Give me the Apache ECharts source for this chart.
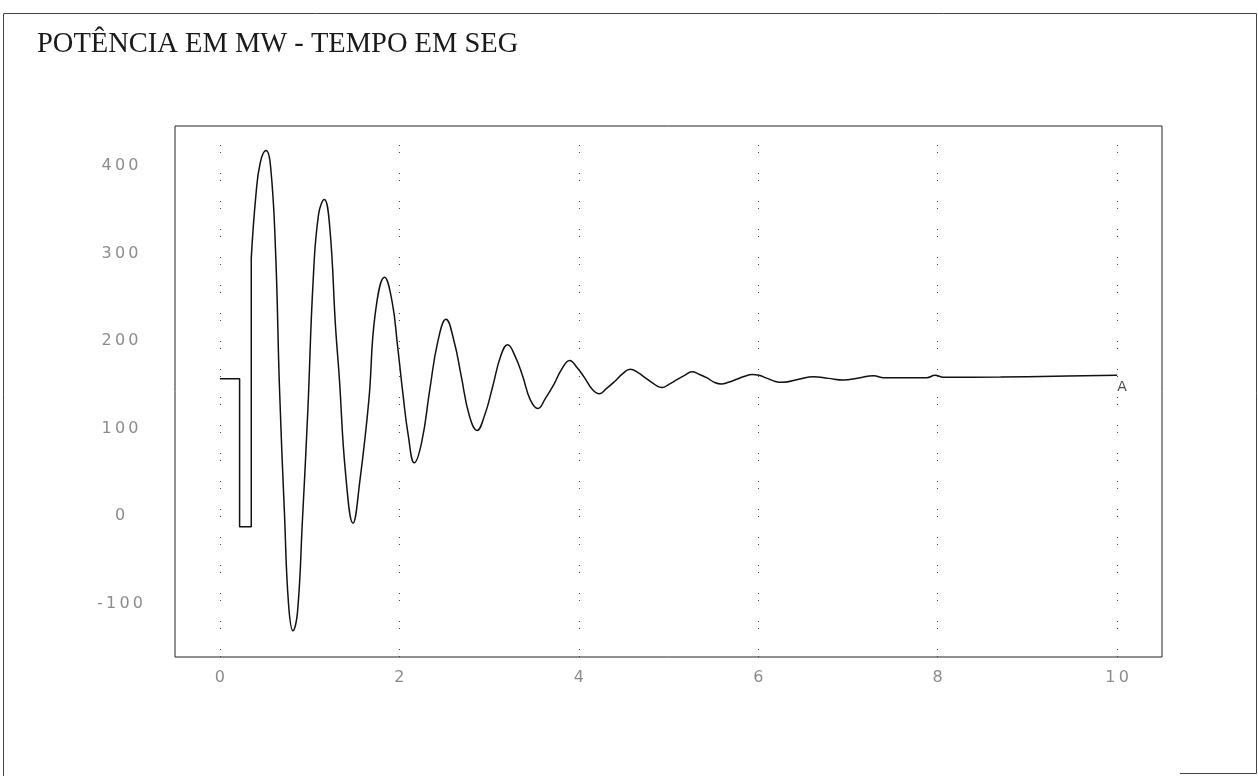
<!DOCTYPE html>
<html>
<head>
<meta charset="utf-8">
<title>Potência em MW</title>
<script src="https://cdn.jsdelivr.net/npm/echarts@6/dist/echarts.min.js"></script>
<style>
  html, body { margin: 0; padding: 0; background: #ffffff; }
  #chart { width: 1258px; height: 776px; }
</style>
</head>
<body>
<div id="chart"></div>
<script>
// Chart title and curve tag
const chartTitle = 'POTÊNCIA EM MW - TEMPO EM SEG';
const curveTag = 'A';

// Axis ticks
const xTickValues = [0, 2, 4, 6, 8, 10];
const yTickValues = [-100, 0, 100, 200, 300, 400];

// Pre-fault level, fault and clearing (seconds, MW)
const stepTime  = [0, 0.22, 0.22, 0.35, 0.35];
const stepPower = [157, 157, -12, -12, 295];

// Post-fault power swing (seconds, MW)
const swingTime = [
  0.35, 0.40, 0.45, 0.515, 0.565, 0.62, 0.665, 0.72, 0.765, 0.815,
  0.865, 0.92, 0.98, 1.04, 1.10, 1.164, 1.225, 1.29, 1.33, 1.40,
  1.484, 1.56, 1.66, 1.73, 1.836, 1.92, 1.98, 2.04, 2.10, 2.167,
  2.25, 2.34, 2.43, 2.52, 2.61, 2.69, 2.78, 2.866, 2.95, 3.04,
  3.13, 3.207, 3.29, 3.375, 3.46, 3.545, 3.63, 3.72, 3.81, 3.898,
  3.98, 4.06, 4.15, 4.228, 4.31, 4.40, 4.49, 4.574, 4.66, 4.75,
  4.84, 4.927, 5.01, 5.094, 5.18, 5.261, 5.345, 5.43, 5.51, 5.588,
  5.67, 5.76, 5.85, 5.93, 6.01, 6.10, 6.19, 6.275, 6.45, 6.617,
  6.78, 6.95, 7.12, 7.285, 7.40, 7.88, 7.97, 8.065, 8.7, 9.3,
  10.0
];
const swingPower = [
  295, 365, 404, 418, 400, 305, 145, 3, -100, -131,
  -110, -5, 120, 270, 345, 362, 330, 215, 160, 50,
  -8, 40, 132, 230, 273, 245, 195, 140, 92, 61,
  85, 145, 200, 225, 200, 160, 115, 98, 115, 148,
  183, 196, 183, 160, 133, 123, 135, 150, 168, 178,
  170, 159, 145, 140, 146, 154, 163, 168, 164, 157.5,
  151, 147, 151, 156, 161, 165, 162, 158, 153, 151,
  153, 156.5, 160, 162, 161, 157.5, 154, 153, 156.5, 159.4,
  157.5, 155.6, 158, 160.5, 158.2, 158.2, 161, 158.7, 159, 160,
  161
];

const stepData = stepTime.map((t, i) => [t, stepPower[i]]);
const swingData = swingTime.map((t, i) => [t, swingPower[i]]);
const endPoint = swingData[swingData.length - 1];

// spread digits apart like the old plotter font
const spaced = v => String(v).split('').join('\u2009');

const chart = echarts.init(document.getElementById('chart'), null, { renderer: 'canvas' });

const lineStyle = { color: '#111', width: 1.5 };

chart.setOption({
  animation: false,
  backgroundColor: '#ffffff',
  graphic: [
    {
      type: 'polyline',
      silent: true,
      shape: { points: [[3.5, 776], [3.5, 13.5], [1256.5, 13.5], [1256.5, 773.5], [1180, 773.5]] },
      style: { stroke: '#444', lineWidth: 1, fill: null }
    },
    {
      type: 'text',
      silent: true,
      style: {
        x: 37,
        y: 45,
        text: chartTitle,
        font: '28.5px "Liberation Serif"',
        fill: '#1a1a1a',
        textAlign: 'left',
        textVerticalAlign: 'middle'
      }
    }
  ],
  grid: {
    left: 175,
    right: 96,
    top: 126,
    bottom: 119,
    show: true,
    borderColor: '#222',
    borderWidth: 1,
    backgroundColor: 'transparent'
  },
  xAxis: {
    type: 'value',
    min: -0.5,
    max: 10.5,
    axisLine: { show: false },
    axisTick: { show: false },
    splitLine: { show: false },
    axisLabel: {
      customValues: xTickValues,
      formatter: spaced,
      margin: 13,
      color: '#8c8c8c',
      fontFamily: 'DejaVu Sans',
      fontSize: 16
    }
  },
  yAxis: {
    type: 'value',
    min: -161,
    max: 446,
    axisLine: { show: false },
    axisTick: { show: false },
    splitLine: { show: false },
    axisLabel: {
      customValues: yTickValues,
      formatter: spaced,
      align: 'center',
      margin: 55,
      color: '#8c8c8c',
      fontFamily: 'DejaVu Sans',
      fontSize: 16
    }
  },
  series: [
    {
      type: 'line',
      data: stepData,
      showSymbol: false,
      symbol: 'none',
      smooth: false,
      lineStyle: lineStyle,
      silent: true
    },
    {
      type: 'line',
      data: swingData,
      showSymbol: false,
      symbol: 'none',
      smooth: 0.45,
      lineStyle: lineStyle,
      silent: true,
      markLine: {
        silent: true,
        symbol: ['none', 'none'],
        label: { show: false },
        lineStyle: { color: '#444', width: 1, type: [1, 6, 1, 20] },
        data: xTickValues.map(v => ({ xAxis: v }))
      }
    },
    {
      // curve identifier at the end of the trace
      type: 'scatter',
      data: [endPoint],
      symbolSize: 1,
      itemStyle: { color: 'transparent' },
      silent: true,
      label: {
        show: true,
        formatter: curveTag,
        position: 'bottom',
        distance: 5,
        offset: [5, 0],
        color: '#222',
        fontFamily: 'DejaVu Sans',
        fontSize: 14
      }
    }
  ]
});
</script>
</body>
</html>
